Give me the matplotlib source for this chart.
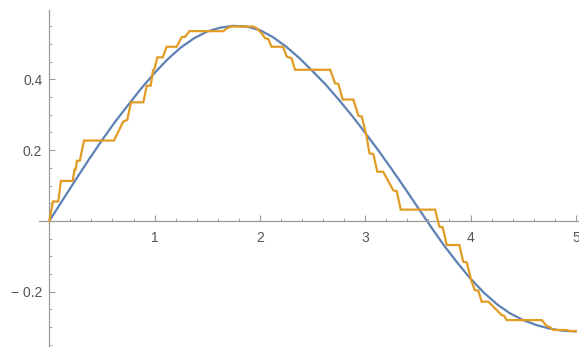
import numpy as np
import matplotlib
matplotlib.use("Agg")
import matplotlib.pyplot as plt
from matplotlib.ticker import FixedLocator

# smooth curve
x_smooth = [0.0, 0.125, 0.25, 0.375, 0.5, 0.625, 0.75, 0.875, 1.0, 1.125,
            1.25, 1.375, 1.5, 1.625, 1.75, 1.875, 2.0, 2.125, 2.25, 2.375,
            2.5, 2.625, 2.75, 2.875, 3.0, 3.125, 3.25, 3.375, 3.5, 3.625,
            3.75, 3.875, 4.0, 4.125, 4.25, 4.375, 4.5, 4.625, 4.75, 4.875, 5.0]
y_smooth = [0.0, 0.058, 0.116, 0.173, 0.228, 0.280, 0.328, 0.375, 0.418, 0.457,
            0.490, 0.516, 0.535, 0.546, 0.551, 0.549, 0.539, 0.519, 0.492, 0.460,
            0.423, 0.385, 0.342, 0.297, 0.249, 0.199, 0.147, 0.093, 0.038, -0.017,
            -0.070, -0.118, -0.163, -0.202, -0.235, -0.261, -0.280, -0.294, -0.304, -0.310, -0.312]

# staircase approximation (vertices)
x_steps = [0.000, 0.035, 0.085, 0.111, 0.222, 0.240, 0.250, 0.262, 0.290, 0.330,
           0.614, 0.703, 0.740, 0.776, 0.893, 0.925, 0.963, 0.985, 1.000, 1.025,
           1.077, 1.115, 1.210, 1.257, 1.290, 1.330, 1.653, 1.685, 1.730, 1.937,
           1.970, 2.017, 2.050, 2.080, 2.110, 2.220, 2.255, 2.300, 2.333, 2.668,
           2.713, 2.745, 2.786, 2.887, 2.935, 2.967, 3.014, 3.040, 3.077, 3.115,
           3.170, 3.267, 3.300, 3.337, 3.663, 3.704, 3.736, 3.774, 3.894, 3.930,
           3.964, 4.010, 4.040, 4.074, 4.106, 4.170, 4.296, 4.320, 4.344, 4.676,
           4.724, 4.750, 4.786, 4.913, 4.945, 5.000]
y_steps = [0.000, 0.055, 0.055, 0.113, 0.113, 0.145, 0.145, 0.170, 0.170, 0.227,
           0.227, 0.281, 0.285, 0.335, 0.335, 0.382, 0.382, 0.425, 0.430, 0.462,
           0.462, 0.492, 0.492, 0.519, 0.520, 0.536, 0.536, 0.544, 0.549, 0.549,
           0.544, 0.530, 0.516, 0.514, 0.492, 0.492, 0.464, 0.460, 0.427, 0.427,
           0.389, 0.387, 0.343, 0.343, 0.297, 0.295, 0.238, 0.191, 0.189, 0.139,
           0.139, 0.086, 0.084, 0.032, 0.032, -0.016, -0.018, -0.068, -0.068, -0.115,
           -0.117, -0.171, -0.195, -0.197, -0.228, -0.228, -0.266, -0.268, -0.280, -0.280,
           -0.297, -0.299, -0.308, -0.308, -0.311, -0.311]

x_ticks = [1, 2, 3, 4, 5]
y_ticks = [-0.2, 0.2, 0.4]
y_ticklabels = ["\u2212 0.2", "0.2", "0.4"]

axis_gray = "#9a9a9a"
label_gray = "#555555"

plt.rcParams['font.family'] = ['Liberation Sans', 'DejaVu Sans']

fig = plt.figure(figsize=(5.79, 3.47), dpi=100)
ax = fig.add_axes([0, 0, 1, 1])
ax.set_xlim(-0.468, 5.030)
ax.set_ylim(-0.356, 0.624)

ax.plot(x_smooth, y_smooth, color="#5E81B5", lw=1.6, solid_capstyle="round", zorder=2)
ax.plot(x_steps, y_steps, color="#E19C24", lw=1.6, solid_joinstyle="miter", zorder=3)

for s in ["top", "right"]:
    ax.spines[s].set_visible(False)
ax.spines["left"].set_position(("data", 0))
ax.spines["bottom"].set_position(("data", 0))
ax.spines["left"].set_bounds(-0.356, 0.596)
ax.spines["bottom"].set_bounds(-0.098, 5.03)
for s in ["left", "bottom"]:
    ax.spines[s].set_color(axis_gray)
    ax.spines[s].set_linewidth(0.9)

# minor ticks only inside the plotted range, none at the origin
x_minor = [k * 0.2 for k in range(1, 25) if k % 5 != 0]
y_minor = [k * 0.05 for k in range(-7, 12) if k != 0 and k % 4 != 0]

ax.xaxis.set_major_locator(FixedLocator(x_ticks))
ax.xaxis.set_minor_locator(FixedLocator(x_minor))
ax.yaxis.set_major_locator(FixedLocator(y_ticks))
ax.yaxis.set_minor_locator(FixedLocator(y_minor))
ax.set_yticklabels(y_ticklabels)

ax.tick_params(which="both", direction="in", colors=axis_gray, labelcolor=label_gray,
               labelsize=10)
ax.tick_params(which="major", length=4, width=0.8)
ax.tick_params(which="minor", length=2.5, width=0.6)
ax.tick_params(axis="x", which="major", pad=7)
ax.tick_params(axis="y", which="major", pad=5)

fig.savefig("out.png", dpi=100)
